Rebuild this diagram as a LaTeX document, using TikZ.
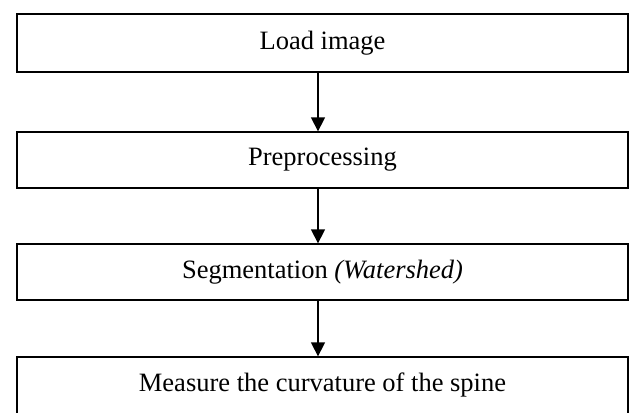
\documentclass[tikz,border=0pt]{standalone}
\usepackage{fontspec}
\setmainfont{Liberation Serif}
\usetikzlibrary{arrows.meta}
\begin{document}
\begin{tikzpicture}[x=1bp,y=-1bp,
  stepbox/.style={draw=black,line width=1.3bp,minimum width=611bp,minimum height=56bp,inner sep=0pt,font=\fontsize{26.5bp}{30bp}\selectfont},
  arr/.style={line width=1.3bp,-{Triangle[length=14bp,width=14bp]}}]
\useasboundingbox (0,0) rectangle (630,412);
\clip (0,0) rectangle (630,412);
\node[stepbox,minimum height=58bp] (b1) at (322.5,43) {Load image};
\node[stepbox] (b2) at (322.5,160) {Preprocessing};
\node[stepbox] (b3) at (322.5,272) {Segmentation \textit{(Watershed)}};
\node[stepbox,minimum height=64bp,text height=18bp,text depth=14bp] (b4) at (322.5,389) {Measure the curvature of the spine};
\draw[arr] ([xshift=-4.5bp]b1.south) -- ([xshift=-4.5bp]b2.north);
\draw[arr] ([xshift=-4.5bp]b2.south) -- ([xshift=-4.5bp]b3.north);
\draw[arr] ([xshift=-4.5bp]b3.south) -- ([xshift=-4.5bp]b4.north);
\end{tikzpicture}
\end{document}
